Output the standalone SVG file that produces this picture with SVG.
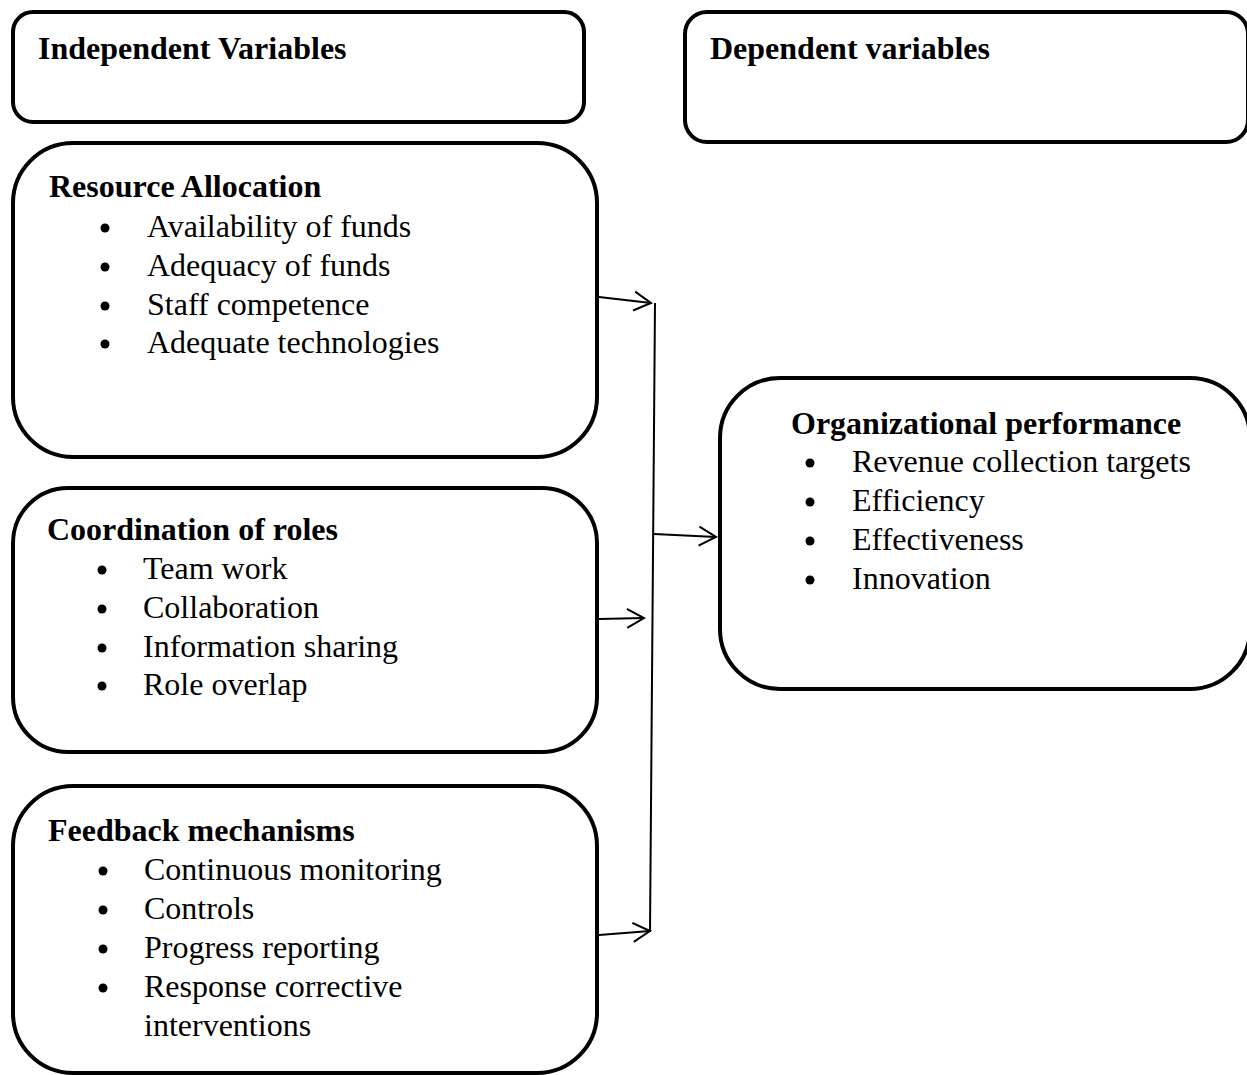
<svg xmlns="http://www.w3.org/2000/svg" width="1247" height="1075" viewBox="0 0 1247 1075">
<style>
.box{fill:#fff;stroke:#000;stroke-width:4}
.h{font-family:"Liberation Serif","Times New Roman",serif;font-weight:bold;font-size:32px;fill:#000}
.t{font-family:"Liberation Serif","Times New Roman",serif;font-size:32px;fill:#000}
.b{fill:#000}
.c{stroke:#000;stroke-width:2;fill:none}
</style>
<defs>
<marker id="arr" markerUnits="userSpaceOnUse" markerWidth="22" markerHeight="22" viewBox="0 0 22 22" refX="19" refY="11" orient="auto">
<path d="M2,1.5 L19,11 L2,20.5" fill="none" stroke="#000" stroke-width="2"/>
</marker>
</defs>
<rect width="1247" height="1075" fill="#fff"/>
<g id="independent">
<rect class="box" x="13" y="12" width="571" height="110" rx="20"/>
<text class="h" x="38" y="59">Independent Variables</text>
</g>
<g id="dependent">
<rect class="box" x="685" y="12" width="563" height="130" rx="22"/>
<text class="h" x="710" y="59">Dependent variables</text>
</g>
<g id="resource">
<rect class="box" x="13" y="143" width="584" height="314" rx="60"/>
<text class="h" x="49" y="197">Resource Allocation</text>
<circle class="b" cx="105" cy="228" r="4.5"/><text class="t" x="147" y="237">Availability of funds</text>
<circle class="b" cx="105" cy="267" r="4.5"/><text class="t" x="147" y="276">Adequacy of funds</text>
<circle class="b" cx="105" cy="306" r="4.5"/><text class="t" x="147" y="315">Staff competence</text>
<circle class="b" cx="105" cy="344" r="4.5"/><text class="t" x="147" y="353">Adequate technologies</text>
</g>
<g id="coordination">
<rect class="box" x="13" y="488" width="584" height="264" rx="55"/>
<text class="h" x="47" y="540">Coordination of roles</text>
<circle class="b" cx="102" cy="570" r="4.5"/><text class="t" x="143" y="579">Team work</text>
<circle class="b" cx="102" cy="609" r="4.5"/><text class="t" x="143" y="618">Collaboration</text>
<circle class="b" cx="102" cy="648" r="4.5"/><text class="t" x="143" y="657">Information sharing</text>
<circle class="b" cx="102" cy="686" r="4.5"/><text class="t" x="143" y="695">Role overlap</text>
</g>
<g id="feedback">
<rect class="box" x="13" y="786" width="584" height="287" rx="60"/>
<text class="h" x="48" y="841">Feedback mechanisms</text>
<circle class="b" cx="103" cy="871" r="4.5"/><text class="t" x="144" y="880">Continuous monitoring</text>
<circle class="b" cx="103" cy="910" r="4.5"/><text class="t" x="144" y="919">Controls</text>
<circle class="b" cx="103" cy="949" r="4.5"/><text class="t" x="144" y="958">Progress reporting</text>
<circle class="b" cx="103" cy="988" r="4.5"/><text class="t" x="144" y="997">Response corrective</text>
<text class="t" x="144" y="1036">interventions</text>
</g>
<g id="performance">
<rect class="box" x="720" y="378" width="530" height="311" rx="60"/>
<text class="h" x="791" y="434">Organizational performance</text>
<circle class="b" cx="810" cy="463" r="4.5"/><text class="t" x="852" y="472">Revenue collection targets</text>
<circle class="b" cx="810" cy="502" r="4.5"/><text class="t" x="852" y="511">Efficiency</text>
<circle class="b" cx="810" cy="541" r="4.5"/><text class="t" x="852" y="550">Effectiveness</text>
<circle class="b" cx="810" cy="580" r="4.5"/><text class="t" x="852" y="589">Innovation</text>
</g>
<g id="connectors">
<path class="c" d="M655,303 L650,932"/>
<path class="c" d="M599,297 L651,303" marker-end="url(#arr)"/>
<path class="c" d="M599,619 L644,618" marker-end="url(#arr)"/>
<path class="c" d="M599,935 L650,931" marker-end="url(#arr)"/>
<path class="c" d="M654,534 L716,537" marker-end="url(#arr)"/>
</g>
</svg>
